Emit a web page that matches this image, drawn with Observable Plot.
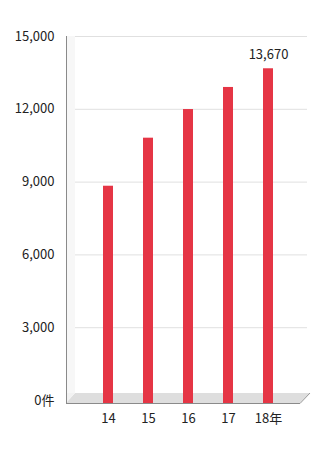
<!DOCTYPE html>
<html>
<head>
<meta charset="utf-8">
<script src="https://cdn.jsdelivr.net/npm/d3@7"></script>
<script src="https://cdn.jsdelivr.net/npm/@observablehq/plot@0.6"></script>
<style>
  html, body { margin: 0; padding: 0; background: #fff; }
  #chart svg { display: block; }
</style>
</head>
<body>
<div id="chart"></div>
<script>
const years = ["14", "15", "16", "17", "18年"];
const counts = [8830, 10810, 11990, 12900, 13670];
const yTicks = [0, 3000, 6000, 9000, 12000, 15000];
const labeledYear = "18年";

const data = years.map((year, i) => ({ year, count: counts[i] }));

const W = 322, H = 452;
const barColor = "#e53545";
const font = "'Noto Sans CJK JP', 'Noto Sans', sans-serif";

const plot = Plot.plot({
  width: W,
  height: H,
  marginTop: 36,
  marginBottom: 52,
  marginLeft: 66,
  marginRight: 15,
  style: { fontFamily: font, fontSize: "13px", color: "#222", background: "#fff" },
  x: { type: "band", domain: years, range: [88, 288], paddingInner: 0.75, paddingOuter: 0.375, label: null },
  y: { domain: [0, 15000], label: null },
  marks: [
    Plot.ruleY(yTicks.filter(d => d > 0), { stroke: "#e0e0e0", strokeWidth: 1 }),
    Plot.barY(data, { x: "year", y: "count", fill: barColor, insetBottom: -3 }),
    Plot.text(data.filter(d => d.year === labeledYear), {
      x: "year", y: "count", text: d => d3.format(",")(d.count),
      dy: -14, fill: "#222", fontSize: 13
    }),
    Plot.axisY(yTicks, {
      tickSize: 0, tickPadding: 12,
      tickFormat: d => d === 0 ? "0件" : d3.format(",")(d),
      fontSize: 13, fill: "#222"
    }),
    Plot.axisX({ tickSize: 0, tickPadding: 13, fontSize: 13, fill: "#222" })
  ]
});

document.getElementById("chart").appendChild(plot);

// 3D-style wall and floor decoration derived from the scales/frame
const svg = d3.select(plot);
const yS = plot.scale("y");
const x0 = 66, x1 = W - 15;
const yTop = yS.apply(15000), yZero = yS.apply(0);
const barsG = plot.querySelector('g[aria-label="bar"]');
const deco = document.createElementNS("http://www.w3.org/2000/svg", "g");
plot.insertBefore(deco, barsG);
const g = d3.select(deco);
// left wall
g.append("rect").attr("x", x0).attr("y", yTop).attr("width", 9).attr("height", yZero - 7 - yTop)
  .attr("fill", "#f7f7f7");
// floor
g.append("polygon")
  .attr("points", [[x0, yZero + 3], [x1 - 7, yZero + 3], [x1 + 3, yZero - 7], [x0 + 9, yZero - 7]].map(p => p.join(",")).join(" "))
  .attr("fill", "#dedede");
g.append("polygon")
  .attr("points", [[x0, yZero + 3], [x0 + 9, yZero - 7], [x0 + 9, yZero - 7], [x0, yZero - 7]].map(p => p.join(",")).join(" "))
  .attr("fill", "#f2f2f2");
g.append("line").attr("x1", x0).attr("x2", x1 - 7).attr("y1", yZero + 3.5).attr("y2", yZero + 3.5)
  .attr("stroke", "#8a8a8a").attr("stroke-width", 1);
g.append("line").attr("x1", x1 - 7).attr("x2", x1 + 3).attr("y1", yZero + 3.5).attr("y2", yZero - 7)
  .attr("stroke", "#9a9a9a").attr("stroke-width", 1);
// left axis line on top
svg.append("line").attr("x1", x0 + 0.5).attr("x2", x0 + 0.5).attr("y1", yTop).attr("y2", yZero + 4)
  .attr("stroke", "#8a8a8a").attr("stroke-width", 1);
</script>
</body>
</html>
